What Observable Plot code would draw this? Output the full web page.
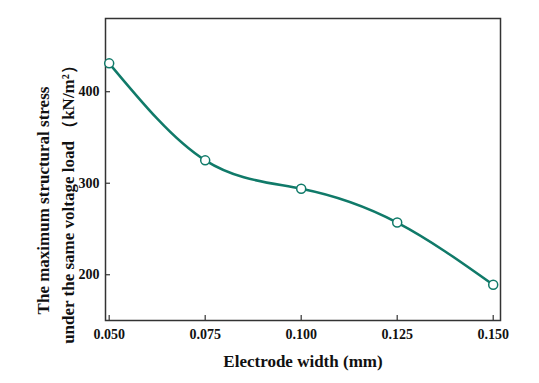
<!DOCTYPE html>
<html><head><meta charset="utf-8">
<script src="https://cdn.jsdelivr.net/npm/d3@7"></script>
<script src="https://cdn.jsdelivr.net/npm/@observablehq/plot@0.6"></script>
<style>body{margin:0;background:#fff}</style>
</head><body><div id="chart"></div>
<script>
const widths = [0.050, 0.075, 0.100, 0.125, 0.150];
const stress = [431, 325, 294, 257, 189];
const xTicks = [0.050, 0.075, 0.100, 0.125, 0.150];
const yTicks = [200, 300, 400];
const xLabel = "Electrode width (mm)";
const yLabel = "The maximum structural stress\nunder the same voltage load （kN/m²）";

const data = widths.map((w, i) => ({w, s: stress[i]}));
const color = "#107a69";
const font = "'Liberation Serif', 'Times New Roman', serif";

const chart = Plot.plot({
  width: 539, height: 383,
  marginLeft: 105, marginRight: 39, marginTop: 18, marginBottom: 63,
  style: {fontFamily: font, fontWeight: "bold", fontSize: "14px", color: "#111", background: "#fff"},
  x: {domain: [0.04904, 0.1519]},
  y: {domain: [150, 480]},
  marks: [
    Plot.axisX({ticks: xTicks, tickFormat: d3.format(".3f"), tickSize: -5, tickPadding: 14, label: null, fontSize: 14, fontWeight: "bold", stroke: "#333", strokeWidth: 1.2}),
    Plot.axisY({ticks: yTicks, tickFormat: d3.format("d"), tickSize: -5, tickPadding: 11, label: null, fontSize: 14, fontWeight: "bold", stroke: "#333", strokeWidth: 1.2}),
    Plot.frame({stroke: "#333", strokeWidth: 1.5}),
    Plot.line(data, {x: "w", y: "s", curve: "natural", stroke: color, strokeWidth: 2.5}),
    Plot.dot(data, {x: "w", y: "s", r: 4.5, stroke: color, fill: "white", strokeWidth: 1.5}),
    Plot.text([xLabel], {frameAnchor: "bottom", dy: 41, lineAnchor: "middle", text: d => d, fontSize: 17, fontWeight: "bold", fill: "#111"}),
    Plot.text([yLabel], {frameAnchor: "left", dx: -52, dy: 31, rotate: -90, textAnchor: "middle", lineAnchor: "middle", text: d => d, fontSize: 17, fontWeight: "bold", lineHeight: 1.45, fill: "#111"})
  ]
});
document.getElementById("chart").appendChild(chart);
</script>
</body></html>
